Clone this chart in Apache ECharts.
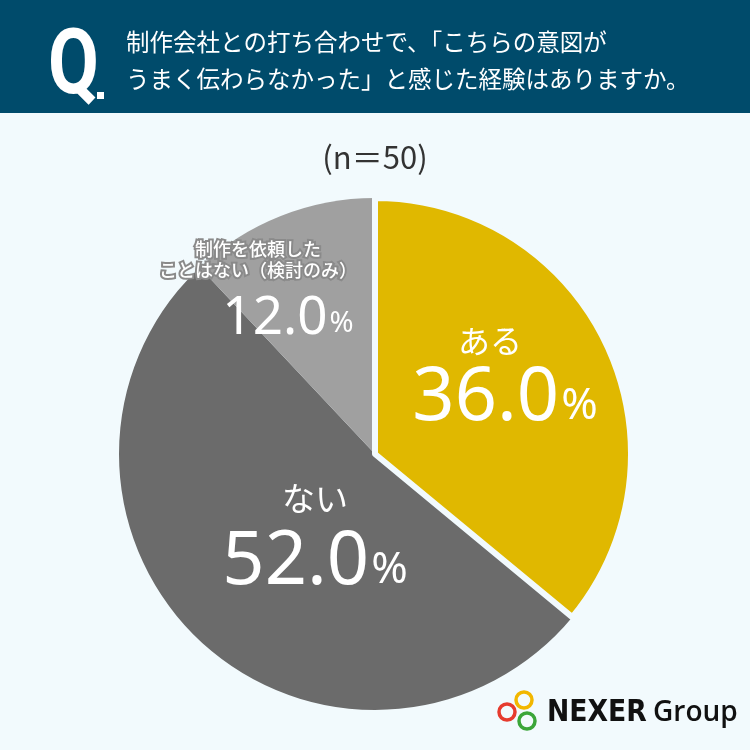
<!DOCTYPE html>
<html><head><meta charset="utf-8">
<script src="https://cdn.jsdelivr.net/npm/echarts@6/dist/echarts.min.js"></script>
<style>html,body{margin:0;padding:0;background:#F2FAFD;}#c{width:750px;height:750px;}</style>
</head><body><div id="c"></div>
<script>
const categories = ['ある', 'ない', '制作を依頼した\nことはない（検討のみ）'];
const values = [36.0, 52.0, 12.0];
const colors = ['#E0B800', '#6B6B6B', '#A0A0A0'];
const titleLines = ['制作会社との打ち合わせで、「こちらの意図が', 'うまく伝わらなかった」と感じた経験はありますか。'];
const sampleText = '(n＝50)';

const BG = '#F2FAFD';
const chart = echarts.init(document.getElementById('c'));
const JP = '"Noto Sans CJK JP", "Noto Sans", sans-serif';
const NUM = '"Noto Sans", sans-serif';
const labelPos = [[505, 376], [315, 533], [258, 298]];
const pieCenter = [375, 454];
const pieRadius = 256;
chart.setOption({
  backgroundColor: BG,
  animation: false,
  graphic: [
    {type: 'rect', shape: {x: 0, y: 0, width: 750, height: 113}, style: {fill: '#004B6B'}},
    {type: 'text', x: 48, y: 25, scaleX: 0.82, style: {text: 'Q', fill: '#fff', font: 'bold 90px Roboto, sans-serif'}},
    {type: 'rect', shape: {x: 97, y: 92, width: 7, height: 7}, style: {fill: '#fff'}},
    {type: 'text', x: 126, y: 30, style: {text: titleLines[0], fill: '#fff', font: '23.5px ' + JP}},
    {type: 'text', x: 126, y: 67, style: {text: titleLines[1], fill: '#fff', font: '23.5px ' + JP}},
    {type: 'text', x: 375, y: 157, style: {text: sampleText, fill: '#333', font: '31px ' + JP, align: 'center', verticalAlign: 'middle'}},
    {type: 'circle', shape: {cx: 507, cy: 712, r: 8}, style: {fill: 'none', stroke: '#E63B2E', lineWidth: 3.5}},
    {type: 'circle', shape: {cx: 524, cy: 700, r: 8}, style: {fill: 'none', stroke: '#F2B700', lineWidth: 3.5}},
    {type: 'circle', shape: {cx: 527, cy: 721, r: 8}, style: {fill: 'none', stroke: '#3BA639', lineWidth: 3.5}},
    {type: 'text', x: 547, y: 713, scaleX: 0.86, style: {text: 'NEXER', fill: '#111', font: 'bold 31px "DejaVu Sans", sans-serif', verticalAlign: 'middle'}},
    {type: 'text', x: 653, y: 713, style: {text: 'Group', fill: '#111', font: '600 28px "Open Sans", sans-serif', verticalAlign: 'middle'}}
  ],
  series: [{
    type: 'pie',
    center: pieCenter,
    radius: [0, pieRadius],
    startAngle: 90,
    clockwise: true,
    z: 1,
    silent: true,
    data: categories.map((n, i) => ({name: n, value: values[i], itemStyle: {color: colors[i]}})),
    itemStyle: {borderWidth: 0},
    emphasis: {disabled: true},
    labelLine: {show: false},
    label: {show: false}
  }, {
    type: 'pie',
    center: pieCenter,
    radius: [0, pieRadius],
    startAngle: 90,
    clockwise: true,
    silent: true,
    z: 2,
    labelLine: {show: false},
    emphasis: {disabled: true},
    data: categories.map((n, i) => ({
      name: n, value: values[i],
      itemStyle: i === 0 ? {color: colors[i], borderColor: BG, borderWidth: 6} : {color: 'rgba(0,0,0,0)', borderWidth: 0}
    })),
    label: {
      show: true,
      position: 'inside',
      formatter: function (p) {
        const v = p.value.toFixed(1);
        if (p.dataIndex === 2) {
          return '{s|' + p.name.replace('\n', '}\n{s|') + '}\n{m|' + v + '}{mp|%}';
        }
        const k = p.dataIndex;
        return '{n' + k + '|' + p.name + '}\n{b|' + v + '}{bp|%}';
      },
      rich: {
        n0: {fontFamily: JP, fontSize: 32, color: '#fff', lineHeight: 46, padding: [0, 30, 0, 0]},
        n1: {fontFamily: JP, fontSize: 33, color: '#fff', lineHeight: 60},
        b: {fontFamily: NUM, fontSize: 74, color: '#fff', lineHeight: 70},
        bp: {fontFamily: NUM, fontSize: 44, color: '#fff', lineHeight: 70, padding: [14, 0, 0, 2]},
        s: {fontFamily: JP, fontSize: 18, fontWeight: 500, color: '#fff', lineHeight: 21, textBorderColor: '#8a8a8a', textBorderWidth: 4},
        m: {fontFamily: NUM, fontSize: 53, color: '#fff', lineHeight: 77, padding: [0, 0, 0, 60]},
        mp: {fontFamily: NUM, fontSize: 29, color: '#fff', lineHeight: 77, padding: [10, 0, 0, 2]}
      }
    },
    labelLayout: function (p) {
      return {x: labelPos[p.dataIndex][0], y: labelPos[p.dataIndex][1], align: 'center', verticalAlign: 'middle'};
    }
  }]
});
</script></body></html>
